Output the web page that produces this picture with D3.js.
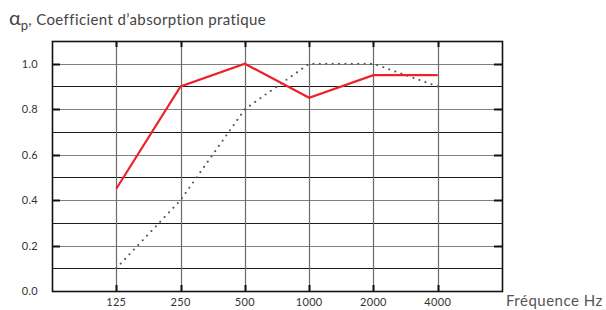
<!DOCTYPE html>
<html>
<head>
<meta charset="utf-8">
<script src="https://cdn.jsdelivr.net/npm/d3@7"></script>
<style>
  body { margin: 0; background: #fff; }
  text { font-family: "Lato", "DejaVu Sans", sans-serif; }
</style>
</head>
<body>
<div id="chart"></div>
<script>
// frequencies (Hz) and absorption values
const frequencies = ["125", "250", "500", "1000", "2000", "4000"]
const solidSeries = [0.45, 0.9, 1.0, 0.85, 0.95, 0.95]
const dottedSeries = [0.1, 0.4, 0.8, 1.0, 1.0, 0.9]
const yTicks = [0.0, 0.2, 0.4, 0.6, 0.8, 1.0]
const yGrid = d3.range(0, 12).map(d => d / 10)

const W = 606, H = 310
const m = { left: 52, right: 502, top: 41, bottom: 291 }

const svg = d3.select('#chart').append('svg')
    .attr('width', W).attr('height', H)

// one empty slot before 125 and after 4000
const x = d3.scaleLinear().domain([-1, frequencies.length]).range([m.left, m.right])
const y = d3.scaleLinear().domain([0, 1.1]).range([m.bottom, m.top])

// horizontal grid: labelled lines grey, the others dark
svg.append('g').selectAll('line').data(yGrid.slice(1)).join('line')
    .attr('x1', m.left).attr('x2', m.right)
    .attr('y1', d => Math.round(y(d)) + 0.5).attr('y2', d => Math.round(y(d)) + 0.5)
    .attr('stroke', (d, i) => (i + 1) % 2 === 0 ? '#808080' : '#1a1a1a')
    .attr('stroke-width', 1.2)

// vertical grid
svg.append('g').selectAll('line').data(frequencies).join('line')
    .attr('x1', (d, i) => Math.round(x(i)) + 0.5).attr('x2', (d, i) => Math.round(x(i)) + 0.5)
    .attr('y1', m.top).attr('y2', m.bottom)
    .attr('stroke', '#6a6a6a').attr('stroke-width', 1.2)

// short dark ticks on the frame
const ticks = svg.append('g').attr('stroke', '#111').attr('stroke-width', 2)
yTicks.slice(1).forEach(v => {
    const yy = Math.round(y(v)) + 0.5
    ticks.append('line').attr('x1', m.left).attr('x2', m.left + 8).attr('y1', yy).attr('y2', yy)
    ticks.append('line').attr('x1', m.right - 8).attr('x2', m.right).attr('y1', yy).attr('y2', yy)
})
frequencies.forEach((f, i) => {
    const xx = Math.round(x(i)) + 0.5
    ticks.append('line').attr('x1', xx).attr('x2', xx).attr('y1', m.top).attr('y2', m.top + 6)
    ticks.append('line').attr('x1', xx).attr('x2', xx).attr('y1', m.bottom - 6).attr('y2', m.bottom)
})

// frame
svg.append('rect')
    .attr('x', m.left + 0.5).attr('y', m.top + 0.5)
    .attr('width', m.right - m.left).attr('height', m.bottom - m.top)
    .attr('fill', 'none').attr('stroke', '#111').attr('stroke-width', 1.6)

const line = d3.line().x((d, i) => x(i)).y(d => y(d))

svg.append('path').datum(dottedSeries)
    .attr('d', line).attr('fill', 'none')
    .attr('stroke', '#555').attr('stroke-width', 2)
    .attr('stroke-linecap', 'round')
    .attr('stroke-dasharray', '0.1,6.3')

svg.append('path').datum(solidSeries)
    .attr('d', line).attr('fill', 'none')
    .attr('stroke', '#ee2128').attr('stroke-width', 2.2)

// y labels
svg.append('g').selectAll('text').data(yTicks).join('text')
    .attr('x', 38).attr('y', d => y(d) + 4)
    .attr('text-anchor', 'end').attr('font-size', 11).attr('fill', '#333')
    .attr('letter-spacing', 0.3)
    .text(d => d.toFixed(1))

// x labels
svg.append('g').selectAll('text').data(frequencies).join('text')
    .attr('x', (d, i) => x(i)).attr('y', 306)
    .attr('text-anchor', 'middle').attr('font-size', 11).attr('fill', '#333')
    .attr('letter-spacing', 0.3)
    .text(d => d)

svg.append('text')
    .attr('x', 506).attr('y', 306)
    .attr('font-size', 15).attr('fill', '#555')
    .attr('letter-spacing', 0.5)
    .text('Fréquence Hz')

// title
const title = svg.append('text').attr('x', 9).attr('y', 25).attr('fill', '#444')
title.append('tspan').attr('font-size', 20).text('α')
title.append('tspan').attr('font-size', 13).attr('dy', 5).text('p')
title.append('tspan').attr('font-size', 15).attr('dy', -5)
    .attr('letter-spacing', 0.4)
    .text(', Coefficient d’absorption pratique')
</script>
</body>
</html>
